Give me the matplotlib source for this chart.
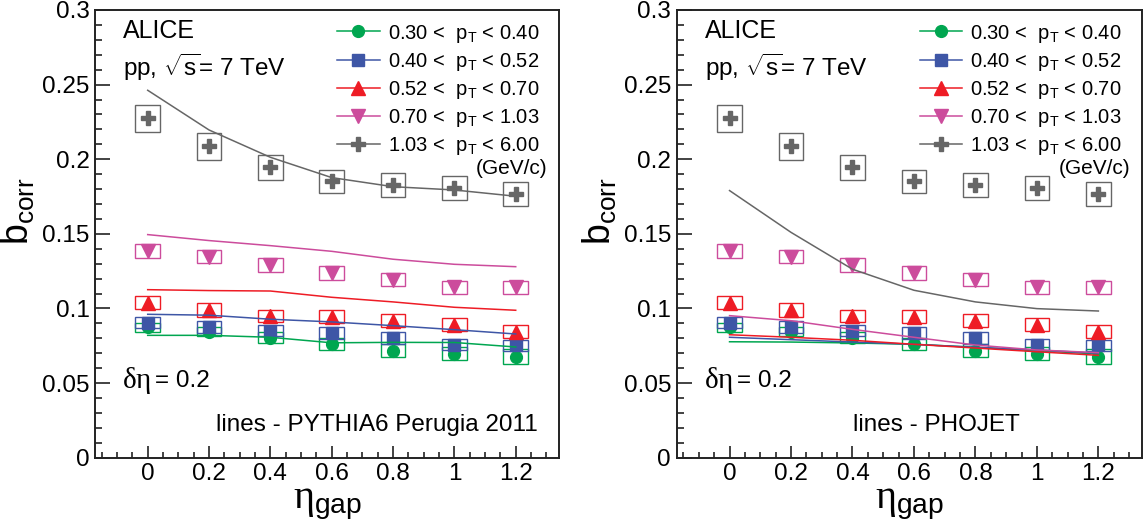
import matplotlib
matplotlib.use('Agg')
import matplotlib.pyplot as plt
from matplotlib.patches import Rectangle
from matplotlib.lines import Line2D
from matplotlib.ticker import MultipleLocator, FixedLocator

plt.rcParams['font.family'] = ['Liberation Sans', 'DejaVu Sans']
plt.rcParams['mathtext.fontset'] = 'custom'
plt.rcParams['mathtext.rm'] = 'Liberation Sans'
plt.rcParams['mathtext.it'] = 'Liberation Serif'
plt.rcParams['mathtext.bf'] = 'Liberation Sans:bold'

# eta_gap values
eta_gap = [0.0, 0.2, 0.4, 0.6, 0.8, 1.0, 1.2]

# measured b_corr per pT bin
b_030_040 = [0.0875, 0.0845, 0.0805, 0.0762, 0.0718, 0.0698, 0.0678]
b_040_052 = [0.0905, 0.0876, 0.0852, 0.0836, 0.0800, 0.0757, 0.0752]
b_052_070 = [0.1040, 0.0992, 0.0950, 0.0945, 0.0918, 0.0890, 0.0845]
b_070_103 = [0.1385, 0.1347, 0.1290, 0.1238, 0.1193, 0.1141, 0.1142]
b_103_600 = [0.2275, 0.2087, 0.1945, 0.1852, 0.1826, 0.1806, 0.1765]

# systematic uncertainties
sys_030_040 = [0.0030, 0.0030, 0.0035, 0.0040, 0.0045, 0.0045, 0.0050]
sys_040_052 = [0.0038, 0.0038, 0.0038, 0.0040, 0.0041, 0.0038, 0.0038]
sys_052_070 = [0.0043, 0.0046, 0.0043, 0.0043, 0.0043, 0.0043, 0.0043]
sys_070_103 = [0.0045, 0.0045, 0.0045, 0.0045, 0.0045, 0.0046, 0.0045]
sys_103_600 = [0.0090, 0.0090, 0.0085, 0.0078, 0.0082, 0.0080, 0.0080]

# PYTHIA6 Perugia 2011
py_030_040 = [0.0820, 0.0820, 0.0807, 0.0770, 0.0773, 0.0772, 0.0742]
py_040_052 = [0.0961, 0.0955, 0.0928, 0.0910, 0.0885, 0.0858, 0.0829]
py_052_070 = [0.1126, 0.1120, 0.1117, 0.1075, 0.1044, 0.1008, 0.0988]
py_070_103 = [0.1495, 0.1455, 0.1421, 0.1383, 0.1330, 0.1296, 0.1280]
py_103_600 = [0.2462, 0.2196, 0.2013, 0.1877, 0.1816, 0.1794, 0.1752]

# PHOJET
ph_030_040 = [0.0777, 0.0775, 0.0769, 0.0760, 0.0740, 0.0717, 0.0695]
ph_040_052 = [0.0807, 0.0791, 0.0775, 0.0760, 0.0740, 0.0722, 0.0700]
ph_052_070 = [0.0824, 0.0807, 0.0787, 0.0760, 0.0735, 0.0710, 0.0686]
ph_070_103 = [0.0952, 0.0918, 0.0860, 0.0807, 0.0755, 0.0722, 0.0704]
ph_103_600 = [0.1790, 0.1510, 0.1263, 0.1122, 0.1044, 0.0999, 0.0983]

bins = ['0.30 <  $\\mathrm{p_T}$ < 0.40', '0.40 <  $\\mathrm{p_T}$ < 0.52',
        '0.52 <  $\\mathrm{p_T}$ < 0.70', '0.70 <  $\\mathrm{p_T}$ < 1.03',
        '1.03 <  $\\mathrm{p_T}$ < 6.00']
data = [b_030_040, b_040_052, b_052_070, b_070_103, b_103_600]
syst = [sys_030_040, sys_040_052, sys_052_070, sys_070_103, sys_103_600]
pythia = [py_030_040, py_040_052, py_052_070, py_070_103, py_103_600]
phojet = [ph_030_040, ph_040_052, ph_052_070, ph_070_103, ph_103_600]

colors = ['#00a650', '#3e56a6', '#ee1c25', '#cc4c9c', '#666666']
markers = ['o', 's', '^', 'v', 'P']
msizes = [8.5, 8.5, 9.5, 9.5, 9.5]

fig = plt.figure(figsize=(11.44, 5.28), dpi=100)
ax1 = fig.add_axes([0.0830, 0.1331, 0.4056, 0.8480])
ax2 = fig.add_axes([0.5915, 0.1331, 0.4065, 0.8480])

for ax, model, mname, mx in [(ax1, pythia, 'lines - PYTHIA6 Perugia 2011', 0.955),
                             (ax2, phojet, 'lines - PHOJET', 0.738)]:
    for i in range(5):
        c = colors[i]
        for xv, yv, sv in zip(eta_gap, data[i], syst[i]):
            ax.add_patch(Rectangle((xv - 0.04, yv - sv), 0.08, 2 * sv, fill=False,
                                   edgecolor=c, lw=1.0, zorder=2))
        ax.plot(eta_gap, data[i], ls='none', marker=markers[i], ms=msizes[i],
                color=c, mec=c, zorder=3)
    for i in range(5):
        ax.plot(eta_gap, model[i], color=colors[i], lw=1.1, zorder=4)

    ax.set_xlim(-0.172, 1.341)
    ax.set_ylim(0, 0.3)
    ax.xaxis.set_major_locator(FixedLocator(eta_gap))
    ax.set_xticklabels(['0', '0.2', '0.4', '0.6', '0.8', '1', '1.2'])
    ax.xaxis.set_minor_locator(MultipleLocator(0.05))
    ax.yaxis.set_major_locator(FixedLocator([0, 0.05, 0.1, 0.15, 0.2, 0.25, 0.3]))
    ax.set_yticklabels(['0', '0.05', '0.1', '0.15', '0.2', '0.25', '0.3'])
    ax.yaxis.set_minor_locator(MultipleLocator(0.01))
    ax.tick_params(axis='both', which='both', direction='in', top=False, right=False,
                   labelsize=17.5, width=1.2, color='#222222', pad=4)
    ax.tick_params(axis='y', which='major', length=11)
    ax.tick_params(axis='y', which='minor', length=5)
    ax.tick_params(axis='x', which='major', length=9)
    ax.tick_params(axis='x', which='minor', length=4.5)
    for sp in ax.spines.values():
        sp.set_linewidth(1.4)
        sp.set_color('#222222')

    ax.set_ylabel('$\\mathrm{b_{corr}}$', fontsize=27)
    ax.yaxis.set_label_coords(-0.125, 0.55)
    ax.set_xlabel('$\\eta_{\\mathrm{gap}}$', fontsize=29)
    ax.xaxis.set_label_coords(0.5, -0.062)

    ax.text(0.06, 0.953, 'ALICE', transform=ax.transAxes, fontsize=18, va='center')
    ax.text(0.06, 0.873, 'pp, $\\sqrt{\\mathrm{s}}$= 7 TeV', transform=ax.transAxes,
            fontsize=17.5, va='center')
    ax.text(0.058, 0.172, '$\\delta\\eta$', transform=ax.transAxes, fontsize=21,
            va='center')
    ax.text(0.13, 0.172, '= 0.2', transform=ax.transAxes, fontsize=17.5, va='center')
    ax.text(mx, 0.073, mname, transform=ax.transAxes, fontsize=17.5, va='center', ha='right')

    handles = [Line2D([], [], color=colors[i], marker=markers[i], ms=msizes[i], lw=1.1)
               for i in range(5)]
    ax.legend(handles, bins, loc='upper left', bbox_to_anchor=(0.505, 0.99),
              frameon=False, fontsize=14.5, handlelength=2.1, handletextpad=0.4,
              labelspacing=0.3, borderaxespad=0)
    ax.text(0.821, 0.645, '(GeV/c)', transform=ax.transAxes, fontsize=15, va='center')

fig.savefig('out.png', dpi=100)
